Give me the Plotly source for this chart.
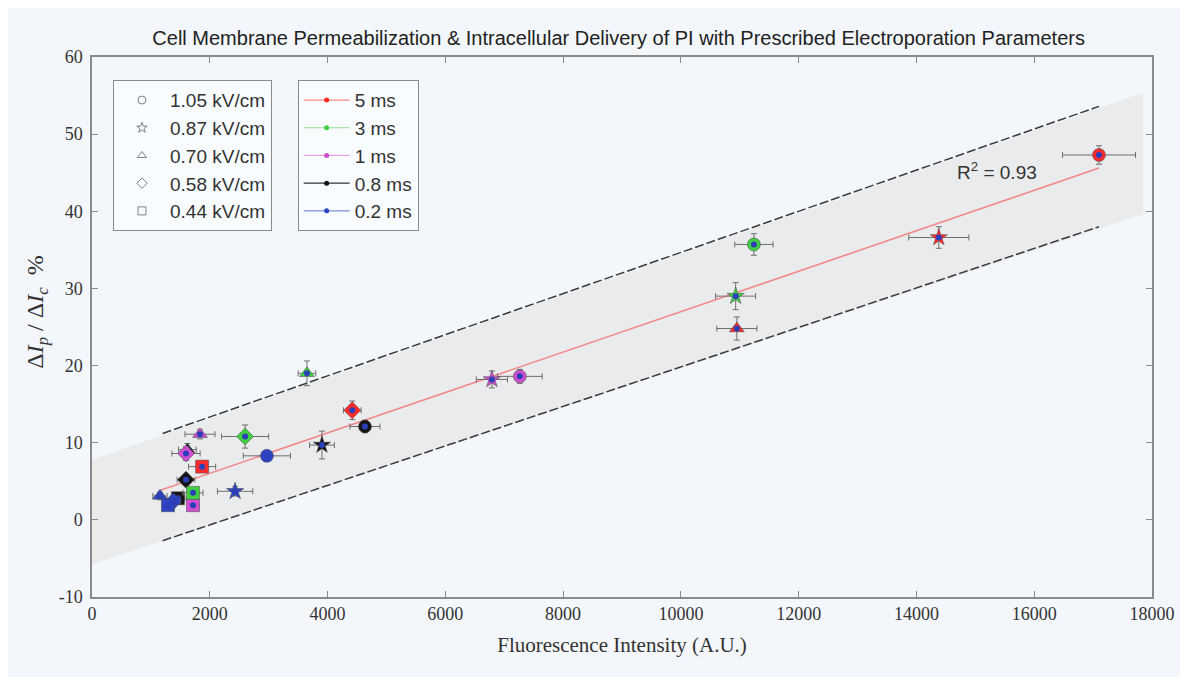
import plotly.graph_objects as go

# ---------------- data ----------------
fields = ["1.05 kV/cm", "0.87 kV/cm", "0.70 kV/cm", "0.58 kV/cm", "0.44 kV/cm"]
durations = ["5 ms", "3 ms", "1 ms", "0.8 ms", "0.2 ms"]

x_5ms = [17100, 14380, 10950, 4420, 1870]
y_5ms = [47.3, 36.6, 24.8, 14.2, 6.9]
xerr_5ms = [620, 510, 340, 150, 230]
yerr_5ms = [1.2, 1.4, 1.5, 1.2, 0.6]

x_3ms = [11240, 10930, 3650, 2600, 1715]
y_3ms = [35.7, 29.0, 19.0, 10.8, 3.5]
xerr_3ms = [325, 340, 150, 400, 170]
yerr_3ms = [1.4, 1.75, 1.6, 1.5, 0.6]

x_1ms = [7265, 6790, 1834, 1596, 1715]
y_1ms = [18.6, 18.2, 11.1, 8.6, 1.9]
xerr_1ms = [380, 265, 255, 240, 100]
yerr_1ms = [0.9, 1.1, 0.6, 0.9, 0.5]

x_08ms = [4635, 3905, 1620, 1596, 1460]
y_08ms = [12.1, 9.7, 9.1, 5.2, 2.8]
xerr_08ms = [255, 210, 150, 150, 120]
yerr_08ms = [0.8, 1.8, 0.8, 0.7, 0.5]

x_02ms = [2970, 2430, 1154, 1380, 1290]
y_02ms = [8.3, 3.7, 3.1, 2.4, 1.9]
xerr_02ms = [400, 300, 120, 120, 100]
yerr_02ms = [0.5, 0.6, 0.5, 0.5, 0.5]

fit_x = [1150, 17100]
fit_y = [3.8, 45.6]

band_x = [0, 17850]
band_upper = [7.8, 55.4]
band_lower = [-5.8, 39.6]

dash_x = [1200, 17100]
dash_upper = [11.2, 53.6]
dash_lower = [-2.7, 38.0]

r2_text = "R<sup>2</sup> = 0.93"
r2_pos = (15365, 45.2)

x_ticks = [0, 2000, 4000, 6000, 8000, 10000, 12000, 14000, 16000, 18000]
x_ticklabels = ["0", "2000", "4000", "6000", "8000", "10000", "12000", "14000", "16000", "18000"]
y_ticks = [-10, 0, 10, 20, 30, 40, 50, 60]
y_ticklabels = ["-10", "0", "10", "20", "30", "40", "50", "60"]

# ---------------- styles ----------------
symbols = ["circle", "star", "triangle-up", "diamond", "square"]
colors = ["#ff2a2a", "#3fcf3f", "#d04fd0", "#151515", "#2c44c4"]
legend_line_colors = ["#ff8a8a", "#8ee08e", "#e6a0e6", "#333333", "#7d8fd6"]
BG = "#f3f7fb"

series = [
    (x_5ms, y_5ms, xerr_5ms, yerr_5ms),
    (x_3ms, y_3ms, xerr_3ms, yerr_3ms),
    (x_1ms, y_1ms, xerr_1ms, yerr_1ms),
    (x_08ms, y_08ms, xerr_08ms, yerr_08ms),
    (x_02ms, y_02ms, xerr_02ms, yerr_02ms),
]

fig = go.Figure()

# prediction band
fig.add_trace(go.Scatter(
    x=band_x + band_x[::-1], y=band_upper + band_lower[::-1],
    fill="toself", fillcolor="#eaebec", line=dict(width=0),
    mode="lines", showlegend=False, hoverinfo="skip"))

# dashed bounds
for yy in (dash_upper, dash_lower):
    fig.add_trace(go.Scatter(
        x=dash_x, y=yy, mode="lines",
        line=dict(color="#3a3a3a", width=1.5, dash="9px,3px"),
        showlegend=False, hoverinfo="skip"))

# fit line
fig.add_trace(go.Scatter(
    x=fit_x, y=fit_y, mode="lines",
    line=dict(color="#f28a8a", width=1.6),
    showlegend=False, hoverinfo="skip"))

# data points
order = [3, 4, 2, 1, 0]
for i in order:
    xs, ys, xe, ye = series[i]
    fig.add_trace(go.Scatter(
        x=xs, y=ys, mode="markers",
        marker=dict(symbol=symbols, size=13, color=colors[i],
                    line=dict(width=0.5, color="#444")),
        error_x=dict(type="data", array=xe, color="#6e6e6e", thickness=1, width=3),
        error_y=dict(type="data", array=ye, color="#6e6e6e", thickness=1, width=3),
        showlegend=False))
    fig.add_trace(go.Scatter(
        x=xs, y=ys, mode="markers",
        marker=dict(symbol="circle", size=6, color="#2a3fb8"),
        showlegend=False, hoverinfo="skip"))

# legend 1: field strengths
for name, sym in zip(fields, symbols):
    fig.add_trace(go.Scatter(
        x=[None], y=[None], mode="markers", name=name, legend="legend",
        marker=dict(symbol=sym + "-open", size=8, color="#808080",
                    line=dict(width=1, color="#808080"))))

# legend 2: pulse durations
for name, c, lc in zip(durations, colors, legend_line_colors):
    fig.add_trace(go.Scatter(
        x=[None], y=[None], mode="lines+markers", name=name, legend="legend2",
        line=dict(color=lc, width=1.2),
        marker=dict(symbol="circle", size=5, color=c)))

fig.add_annotation(x=r2_pos[0], y=r2_pos[1], text=r2_text, showarrow=False,
                   font=dict(family="Liberation Sans, Arial", size=19, color="#333"))

axis_common = dict(
    showgrid=False, zeroline=False, showline=True, linecolor="#8a8a8a",
    linewidth=1.5, mirror="ticks", ticks="inside", ticklen=6, tickcolor="#8a8a8a",
    tickfont=dict(family="Liberation Serif, Times New Roman", size=18, color="#333"),
)

fig.update_layout(
    width=1188, height=677,
    margin=dict(l=84, r=44, t=49, b=88),
    paper_bgcolor=BG, plot_bgcolor=BG,
    title=dict(
        text="Cell Membrane Permeabilization & Intracellular Delivery of PI with Prescribed Electroporation Parameters",
        x=0.514, xanchor="center", y=0.956, yanchor="middle", yref="container",
        font=dict(family="Liberation Sans, Arial", size=20, color="#222")),
    xaxis=dict(range=[0, 18000], tickvals=x_ticks, ticktext=x_ticklabels,
               title=dict(text="Fluorescence Intensity (A.U.)", standoff=14,
                          font=dict(family="Liberation Serif, Times New Roman", size=21, color="#333")),
               **axis_common),
    yaxis=dict(range=[-10, 60], tickvals=y_ticks, ticktext=y_ticklabels, ticklabelstandoff=4,
               title=dict(text="&nbsp;&nbsp;&nbsp;&nbsp;&nbsp;Δ<i>I<sub>p</sub></i>&nbsp;/&nbsp;Δ<i>I<sub>c</sub></i>&nbsp;&nbsp;%",
                          standoff=8,
                          font=dict(family="Liberation Serif, Times New Roman", size=24, color="#333")),
               **axis_common),
    legend=dict(x=0.0198, y=0.957, xanchor="left", yanchor="top",
                bgcolor="rgba(250,252,254,0.9)", bordercolor="#8a8a8a", borderwidth=1,
                font=dict(family="Liberation Sans, Arial", size=19, color="#333"),
                itemwidth=46, traceorder="normal"),
    legend2=dict(x=0.194, y=0.957, xanchor="left", yanchor="top",
                 bgcolor="rgba(250,252,254,0.9)", bordercolor="#8a8a8a", borderwidth=1,
                 font=dict(family="Liberation Sans, Arial", size=19, color="#333"),
                 itemwidth=46, traceorder="normal"),
    showlegend=True,
)

fig.write_html("out.html")
